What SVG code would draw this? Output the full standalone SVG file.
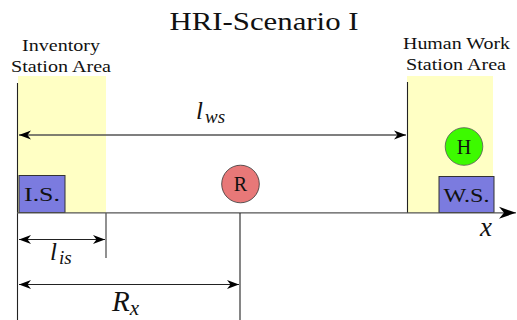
<svg xmlns="http://www.w3.org/2000/svg" width="517" height="320" viewBox="0 0 517 320">
<defs>
<marker id="ah" viewBox="-12 -6 13 12" markerWidth="13" markerHeight="12" refX="0" refY="0" orient="auto-start-reverse" markerUnits="userSpaceOnUse">
<path d="M0,0 L-12,-4.5 L-8.5,0 L-12,4.5 Z" fill="#000"/>
</marker>
<marker id="axh" viewBox="-18 -7 19 14" markerWidth="19" markerHeight="14" refX="0" refY="0" orient="auto" markerUnits="userSpaceOnUse">
<path d="M0,0 L-17,-6 L-12,0 L-17,6 Z" fill="#000"/>
</marker>
</defs>
<style>
.area{fill:#ffffc4;stroke:none}
.box{fill:#7b7bdf;stroke:#333;stroke-width:1}
text{fill:#111}
.math{font-style:italic}
.ln{stroke:#555;stroke-width:1.3;fill:none}
.dim{stroke:#222;stroke-width:1.1;fill:none}
</style>
<rect width="517" height="320" fill="#fff"/>
<g font-family="Liberation Serif, DejaVu Serif, serif">
<text x="264" y="30" font-size="26" text-anchor="middle" textLength="189" lengthAdjust="spacingAndGlyphs">HRI-Scenario I</text>

<g id="inventory-area">
<rect class="area" x="18" y="76" width="88" height="137"/>
<text x="61" y="50.5" font-size="16" text-anchor="middle" textLength="78" lengthAdjust="spacingAndGlyphs">Inventory</text>
<text x="61" y="71.5" font-size="16" text-anchor="middle" textLength="100" lengthAdjust="spacingAndGlyphs">Station Area</text>
</g>
<g id="work-area">
<rect class="area" x="407" y="76" width="86" height="137"/>
<text x="456.5" y="48.5" font-size="16" text-anchor="middle" textLength="107" lengthAdjust="spacingAndGlyphs">Human Work</text>
<text x="456" y="69.5" font-size="16" text-anchor="middle" textLength="100" lengthAdjust="spacingAndGlyphs">Station Area</text>
</g>
<g id="IS">
<rect class="box" x="19" y="175.5" width="46" height="37"/>
<text x="42" y="201" font-size="19" text-anchor="middle" textLength="36" lengthAdjust="spacingAndGlyphs">I.S.</text>
</g>
<g id="WS">
<rect class="box" x="439" y="176.5" width="55" height="36"/>
<text x="466.5" y="202" font-size="19" text-anchor="middle" textLength="46" lengthAdjust="spacingAndGlyphs">W.S.</text>
</g>
<g id="R">
<circle cx="240.5" cy="184" r="18.8" fill="#e87878" stroke="#333" stroke-width="0.8"/>
<text x="240.5" y="191" font-size="20" text-anchor="middle">R</text>
</g>
<g id="H">
<circle cx="464" cy="146.5" r="18.8" fill="#3dfa00" stroke="#555" stroke-width="0.8"/>
<text x="464" y="153.5" font-size="20" text-anchor="middle">H</text>
</g>

<g id="connectors">
<line class="dim" x1="17.5" y1="83" x2="17.5" y2="320"/>
<line class="dim" x1="407.5" y1="82" x2="407.5" y2="213"/>
<line class="ln" x1="17" y1="212.8" x2="516" y2="212.8" marker-end="url(#axh)"/>
<line class="ln" x1="19" y1="135" x2="406" y2="135" marker-start="url(#ah)" marker-end="url(#ah)"/>
<line class="ln" x1="106" y1="213" x2="106" y2="258"/>
<line class="dim" x1="19" y1="239.5" x2="105" y2="239.5" marker-start="url(#ah)" marker-end="url(#ah)"/>
<line class="dim" x1="240" y1="213" x2="240" y2="320"/>
<line class="dim" x1="19" y1="284.5" x2="239" y2="284.5" marker-start="url(#ah)" marker-end="url(#ah)"/>
</g>

<text class="math" x="196" y="119" font-size="25">l<tspan font-size="19" dy="4" dx="2">ws</tspan></text>
<text class="math" x="50" y="260" font-size="25">l<tspan font-size="19" dy="4" dx="2">is</tspan></text>
<text class="math" x="112" y="311" font-size="29">R<tspan font-size="21" dy="4">x</tspan></text>
<text class="math" x="480" y="236" font-size="27">x</text>
</g>
</svg>
